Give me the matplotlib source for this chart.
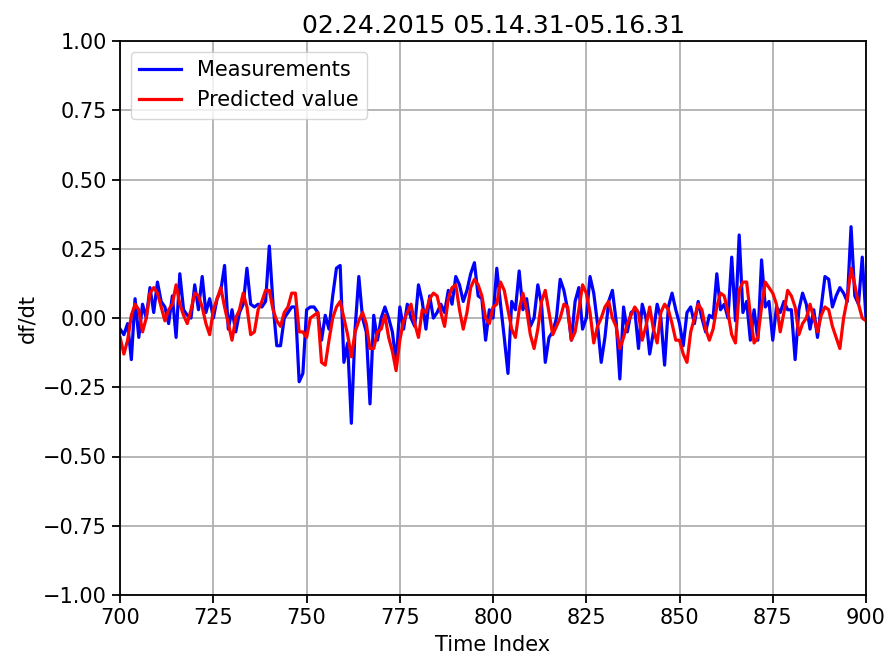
import numpy as np
import matplotlib
matplotlib.use('Agg')
import matplotlib.pyplot as plt

# time index 700..900
time_index = np.arange(700, 901)

measurements = [
    -0.04, -0.06, -0.02, -0.15, 0.07, -0.07, 0.05, 0.00, 0.11, 0.02,
    0.13, 0.06, 0.04, -0.02, 0.08, -0.07, 0.16, 0.03, 0.01, 0.00,
    0.12, 0.03, 0.15, 0.02, 0.07, 0.00, 0.07, 0.10, 0.19, -0.04,
    0.03, -0.05, 0.02, 0.05, 0.18, 0.05, 0.04, 0.05, 0.04, 0.06,
    0.26, 0.05, -0.10, -0.10, 0.00, 0.02, 0.04, 0.04, -0.23, -0.20,
    0.03, 0.04, 0.04, 0.02, -0.08, 0.01, -0.04, 0.08, 0.18, 0.19,
    -0.16, -0.09, -0.38, -0.04, 0.15, 0.00, -0.05, -0.31, 0.01, -0.08,
    0.00, 0.04, 0.00, -0.05, -0.16, 0.04, -0.04, 0.05, 0.00, -0.03,
    0.12, 0.06, -0.04, 0.08, 0.00, 0.02, 0.05, 0.02, 0.10, 0.05,
    0.15, 0.12, 0.06, 0.10, 0.16, 0.20, 0.08, 0.07, -0.08, 0.03,
    0.00, 0.18, 0.05, -0.07, -0.20, 0.06, 0.03, 0.17, 0.03, 0.07,
    -0.03, 0.00, 0.12, 0.05, -0.16, -0.07, -0.05, 0.00, 0.14, 0.10,
    0.03, -0.08, 0.06, 0.11, -0.04, 0.00, 0.15, 0.09, -0.02, -0.16,
    -0.07, 0.06, 0.10, -0.01, -0.22, 0.04, -0.05, 0.02, 0.03, -0.11,
    0.05, 0.00, -0.13, -0.05, 0.05, 0.00, -0.17, 0.04, 0.09, 0.03,
    -0.02, -0.10, 0.02, 0.04, -0.02, 0.06, 0.00, -0.05, 0.01, 0.00,
    0.16, 0.03, 0.05, 0.00, 0.22, -0.01, 0.30, 0.02, 0.06, -0.08,
    0.03, -0.08, 0.21, 0.04, 0.06, -0.08, 0.04, 0.02, 0.06, 0.03,
    0.03, -0.15, 0.03, 0.09, 0.05, -0.04, 0.03, -0.07, 0.04, 0.15,
    0.14, 0.04, 0.08, 0.11, 0.09, 0.06, 0.33, 0.08, 0.05, 0.22,
    0.00,
]

predicted = [
    -0.07, -0.13, -0.08, 0.01, 0.05, 0.03, -0.05, 0.00, 0.09, 0.11,
    0.09, 0.04, -0.01, 0.03, 0.05, 0.12, 0.05, 0.01, -0.02, 0.03,
    0.09, 0.08, 0.04, -0.02, -0.06, 0.03, 0.07, 0.11, 0.04, -0.02,
    -0.08, 0.00, 0.03, 0.09, 0.04, -0.06, -0.05, 0.03, 0.06, 0.10,
    0.10, 0.03, -0.01, -0.03, 0.02, 0.04, 0.09, 0.09, -0.05, -0.05,
    -0.07, 0.00, 0.01, 0.02, -0.16, -0.17, -0.08, 0.00, 0.04, 0.06,
    0.00, -0.06, -0.14, -0.05, -0.01, 0.02, -0.02, -0.11, -0.11, -0.05,
    -0.04, 0.01, -0.07, -0.12, -0.19, -0.08, -0.01, 0.02, 0.05, -0.02,
    -0.07, 0.03, 0.02, 0.07, 0.09, 0.08, 0.02, -0.03, 0.07, 0.11,
    0.12, 0.03, -0.04, 0.02, 0.11, 0.14, 0.12, 0.08, 0.00, -0.02,
    0.04, 0.05, 0.13, 0.10, 0.03, -0.04, -0.07, 0.03, 0.09, 0.03,
    -0.06, -0.11, -0.04, 0.06, 0.10, 0.02, -0.06, -0.03, 0.00, 0.05,
    0.04, -0.08, -0.05, 0.03, 0.12, 0.09, 0.02, -0.09, -0.03, 0.00,
    0.04, 0.06, 0.00, -0.03, -0.11, -0.07, -0.02, 0.01, 0.04, 0.02,
    -0.08, -0.03, 0.04, -0.04, -0.09, 0.02, 0.05, 0.03, -0.02, -0.08,
    -0.08, -0.13, -0.16, -0.05, 0.00, 0.05, 0.03, -0.04, -0.08, -0.04,
    0.04, 0.09, 0.08, 0.02, -0.06, -0.09, 0.10, 0.13, 0.13, 0.01,
    -0.09, -0.07, 0.04, 0.13, 0.11, 0.09, 0.05, -0.05, 0.02, 0.10,
    0.08, 0.04, -0.06, -0.02, 0.00, 0.05, 0.00, -0.05, 0.01, 0.04,
    0.03, -0.03, -0.07, -0.11, 0.00, 0.07, 0.18, 0.12, 0.05, 0.00,
    -0.01,
]

fig, ax = plt.subplots(figsize=(8.9, 6.64), dpi=100)
fig.subplots_adjust(left=0.135, right=0.973, top=0.938, bottom=0.104)

ax.plot(time_index, measurements, color='blue', linewidth=2.3, label='Measurements')
ax.plot(time_index, predicted, color='red', linewidth=2.3, label='Predicted value')
ax.set_xlim(700, 900)
ax.set_ylim(-1.0, 1.0)
ax.set_xticks(np.arange(700, 901, 25))
ax.set_yticks(np.arange(-1.0, 1.01, 0.25))
ax.grid(True, color='#b0b0b0', linewidth=1.3)
ax.tick_params(labelsize=15, width=1.3, length=6)
for s in ax.spines.values():
    s.set_linewidth(1.3)
ax.set_xlabel('Time Index', fontsize=15, labelpad=5)
ax.set_ylabel('df/dt', fontsize=15)
ax.set_title('02.24.2015 05.14.31-05.16.31', fontsize=18)
ax.legend(loc='upper left', fontsize=15)

fig.savefig('out.png')
